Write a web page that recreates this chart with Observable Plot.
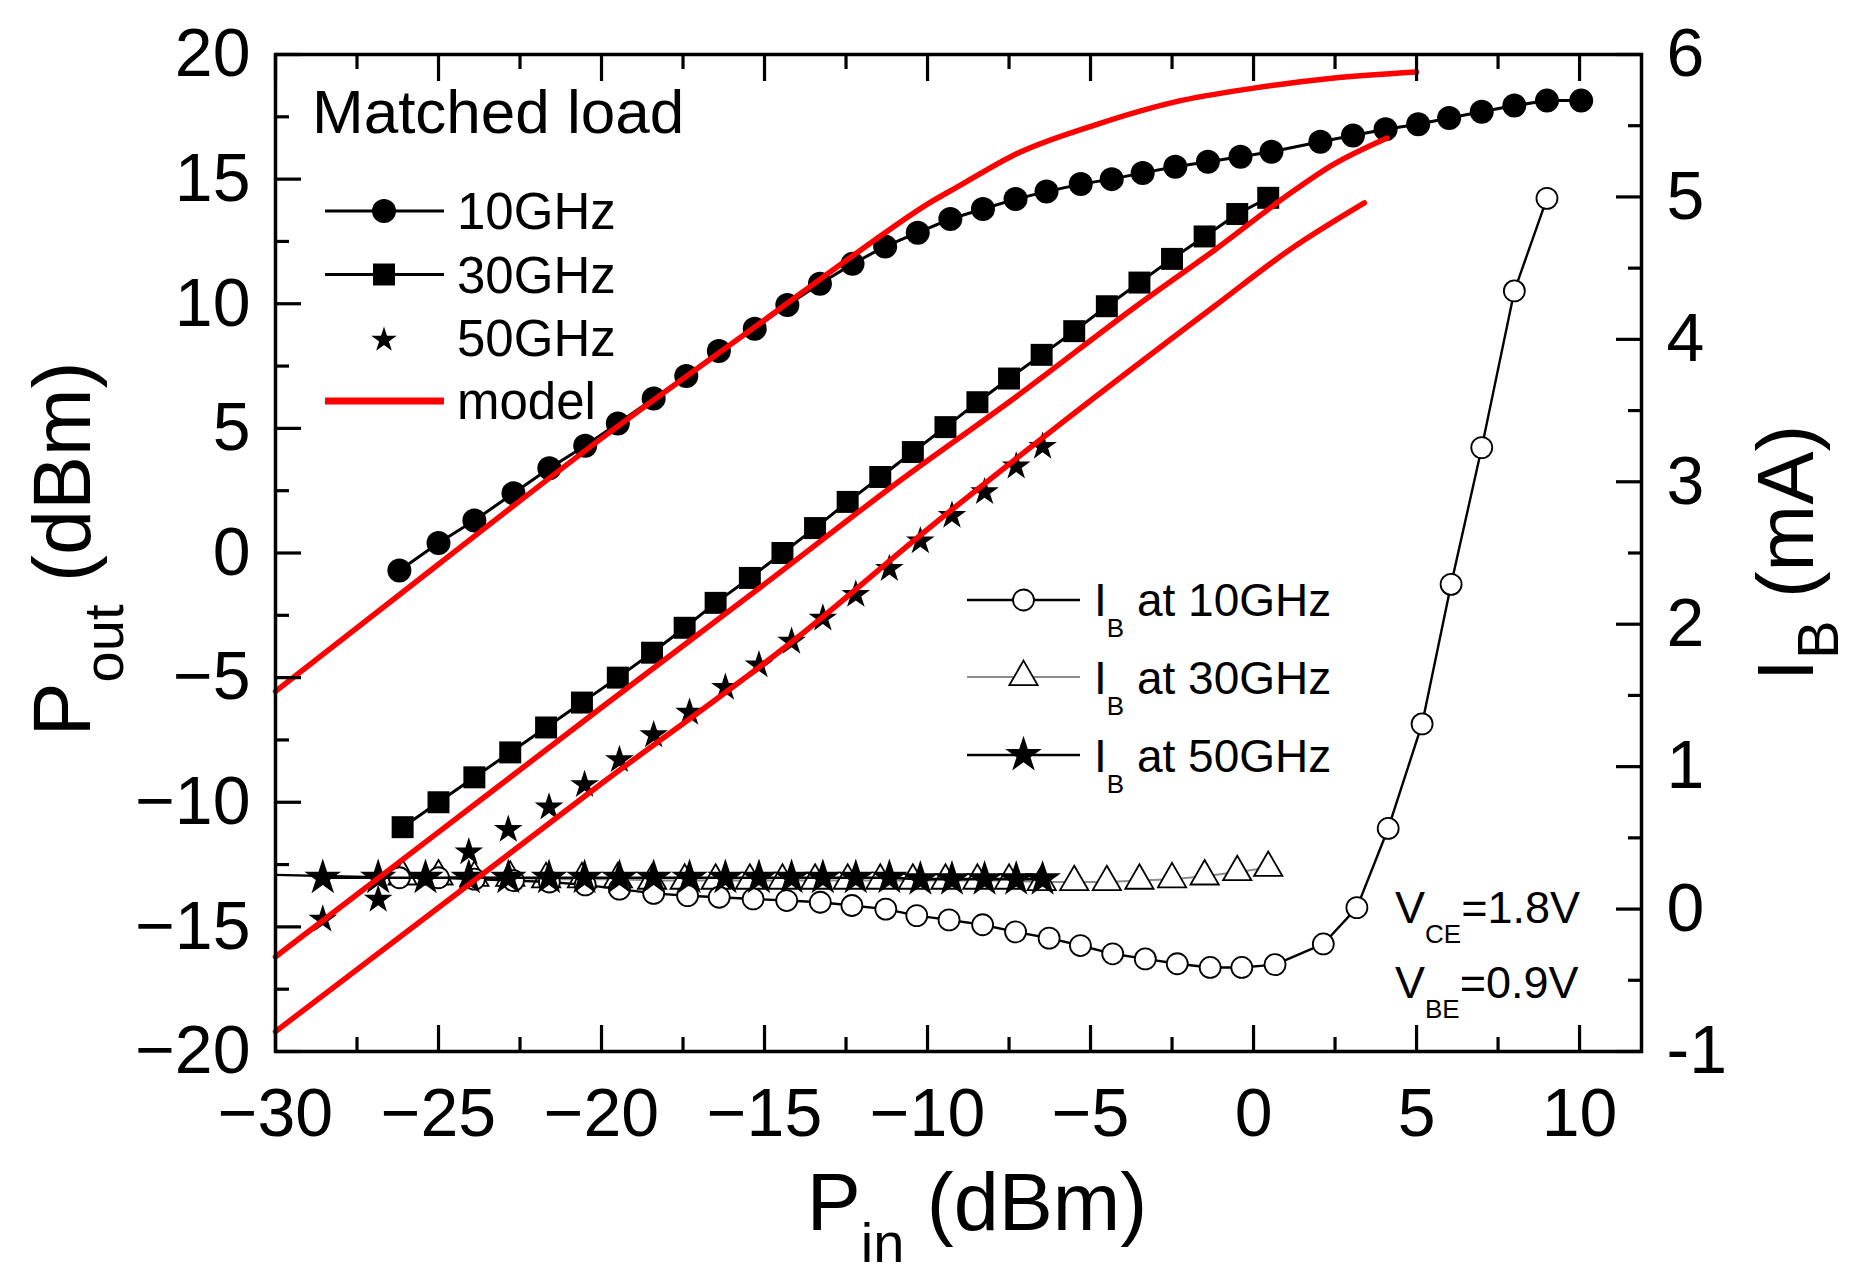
<!DOCTYPE html>
<html>
<head>
<meta charset="utf-8">
<script src="https://cdn.jsdelivr.net/npm/d3@7"></script>
<script src="https://cdn.jsdelivr.net/npm/@observablehq/plot@0.6"></script>
<style>
  html, body { margin: 0; padding: 0; background: #fff; }
  #chart { width: 1855px; height: 1288px; }
</style>
</head>
<body>
<div id="chart"></div>
<script>
const FONT = "'Liberation Sans', Arial, Helvetica, sans-serif";

// ---------- data ----------
// Pout (dBm) vs Pin (dBm), 10 GHz
const pin10  = [-26.2,-25.0,-23.9,-22.7,-21.6,-20.5,-19.5,-18.4,-17.4,-16.4,-15.3,-14.3,-13.3,-12.3,-11.3,-10.3,-9.3,-8.3,-7.3,-6.35,-5.3,-4.35,-3.4,-2.4,-1.4,-0.4,0.55,2.05,3.05,4.05,5.05,6.0,7.0,8.0,9.0,10.05];
const pout10 = [-0.7,0.4,1.3,2.4,3.4,4.3,5.2,6.2,7.1,8.1,9.0,9.95,10.8,11.6,12.3,12.85,13.4,13.8,14.2,14.5,14.8,15.0,15.25,15.5,15.7,15.9,16.1,16.5,16.75,17.0,17.2,17.45,17.7,17.95,18.15,18.15];
// 30 GHz
const pin30  = [-26.1,-25.0,-23.9,-22.8,-21.7,-20.6,-19.5,-18.45,-17.45,-16.5,-15.45,-14.45,-13.45,-12.45,-11.45,-10.45,-9.45,-8.47,-7.5,-6.5,-5.5,-4.5,-3.5,-2.5,-1.5,-0.5,0.45];
const pout30 = [-11.0,-10.0,-9.0,-8.0,-7.0,-6.0,-5.0,-4.0,-3.0,-2.0,-1.0,0.0,1.0,2.05,3.05,4.05,5.05,6.05,7.0,7.95,8.9,9.9,10.85,11.8,12.7,13.6,14.25];
// 50 GHz
const pin50  = [-28.55,-26.85,-25.4,-24.07,-22.86,-21.61,-20.52,-19.45,-18.4,-17.3,-16.2,-15.17,-14.17,-13.21,-12.2,-11.17,-10.22,-9.25,-8.25,-7.28,-6.47];
const pout50 = [-14.7,-13.9,-13.0,-12.0,-11.1,-10.2,-9.3,-8.3,-7.3,-6.4,-5.4,-4.5,-3.55,-2.62,-1.67,-0.63,0.48,1.5,2.45,3.48,4.27];

// model curves
const modelPin10  = [-30,-25,-20,-15,-12,-10,-9,-7.3,-4.8,-2.4,0,2.4,5.0];
const modelPout10 = [-5.55,-0.45,4.6,9.35,12.2,14.0,14.75,16.0,17.2,18.1,18.65,19.05,19.3];
const modelPin30  = [-30,-25,-20,-15,-10.9,-7.3,-3.6,-1.2,1.2,2.4,4.1];
const modelPout30 = [-16.2,-11.2,-6.2,-1.25,2.85,6.25,9.9,12.15,14.5,15.55,16.65];
const modelPin50  = [-30,-20,-14,-10,-6,-1.2,1.2,3.4];
const modelPout50 = [-19.2,-9.25,-3.4,0.95,5.1,9.9,12.25,14.05];

// base current IB (mA), right axis
const ibPin10 = [-30,-26.2,-25.0,-23.9,-22.7,-21.6,-20.5,-19.45,-18.4,-17.36,-16.39,-15.35,-14.32,-13.29,-12.32,-11.28,-10.33,-9.34,-8.31,-7.3,-6.27,-5.31,-4.32,-3.32,-2.34,-1.33,-0.36,0.66,2.14,3.17,4.13,5.17,6.06,7.0,8.0,9.0];
const ib10    = [0.24,0.22,0.22,0.21,0.2,0.19,0.17,0.14,0.11,0.094,0.083,0.071,0.06,0.048,0.025,0.0,-0.046,-0.076,-0.11,-0.16,-0.204,-0.256,-0.314,-0.35,-0.384,-0.41,-0.41,-0.39,-0.245,0.01,0.566,1.30,2.28,3.24,4.34,4.99];
const ibPin30 = [-26.1,-25.0,-23.9,-22.8,-21.7,-20.6,-19.5,-18.45,-17.45,-16.5,-15.45,-14.45,-13.45,-12.45,-11.45,-10.45,-9.45,-8.47,-7.5,-6.5,-5.5,-4.5,-3.5,-2.5,-1.5,-0.5,0.45];
const ib30    = [0.23,0.23,0.22,0.22,0.21,0.21,0.21,0.2,0.2,0.2,0.2,0.2,0.2,0.2,0.2,0.2,0.2,0.2,0.2,0.19,0.19,0.19,0.2,0.21,0.23,0.26,0.29];
const ibPin50 = [-28.55,-26.85,-25.4,-24.07,-22.86,-21.61,-20.52,-19.45,-18.4,-17.3,-16.2,-15.17,-14.17,-13.21,-12.2,-11.17,-10.22,-9.25,-8.25,-7.28,-6.47];
const ib50    = [0.22,0.22,0.22,0.22,0.22,0.22,0.22,0.22,0.22,0.22,0.22,0.22,0.22,0.22,0.22,0.22,0.21,0.21,0.21,0.21,0.21];

// ticks
const xMajor = [-30,-25,-20,-15,-10,-5,0,5,10];
const xMinor = [-27.5,-22.5,-17.5,-12.5,-7.5,-2.5,2.5,7.5];
const yMajor = [-20,-15,-10,-5,0,5,10,15,20];
const yMinor = [-17.5,-12.5,-7.5,-2.5,2.5,7.5,12.5,17.5];
const ibMajor = [-1,0,1,2,3,4,5,6];
const ibMinor = [-0.5,0.5,1.5,2.5,3.5,4.5,5.5];

// ---------- build tables ----------
const zip = (xs, ys) => xs.map((p, i) => ({p, v: ys[i]}));
const d10 = zip(pin10, pout10), d30 = zip(pin30, pout30), d50 = zip(pin50, pout50);
const m10 = zip(modelPin10, modelPout10), m30 = zip(modelPin30, modelPout30), m50 = zip(modelPin50, modelPout50);
const i10 = zip(ibPin10, ib10), i30 = zip(ibPin30, ib30), i50 = zip(ibPin50, ib50);

// right axis (-1..6 mA) shares the vertical range of the left axis (-20..20 dBm)
const ibY = v => -20 + (v + 1) * 40 / 7;
const yIb = y => Math.round(((y + 20) * 7 / 40 - 1) * 1000) / 1000;
const ibYv = d => ibY(d.v);

const TS = 3.2;      // tick stroke
const MAJ = -26, MIN = -14; // inward ticks
const blank = () => "";

const plot = Plot.plot({
  width: 1855,
  height: 1288,
  marginLeft: 275,
  marginRight: 214,
  marginTop: 54,
  marginBottom: 237,
  x: {domain: [-30, 11.9]},
  y: {domain: [-20, 20]},
  style: {fontFamily: FONT, fontSize: "68px", color: "black", background: "white", overflow: "visible"},
  marks: [
    // IB curves
    Plot.line(i30, {x: "p", y: ibYv, stroke: "#8c8c8c", strokeWidth: 2}),
    Plot.dot(i30, {x: "p", y: ibYv, symbol: "triangle", r: 10.5, fill: "white", stroke: "black", strokeWidth: 1.8}),
    Plot.line(i10, {x: "p", y: ibYv, stroke: "black", strokeWidth: 2.4}),
    Plot.dot(i10, {x: "p", y: ibYv, filter: d => d.p > -29.9, symbol: "circle", r: 10.5, fill: "white", stroke: "black", strokeWidth: 1.8}),
    Plot.line(i50, {x: "p", y: ibYv, stroke: "black", strokeWidth: 2.6}),
    Plot.dot(i50, {x: "p", y: ibYv, symbol: "star", r: 11.5, fill: "black"}),
    // Pout measurements
    Plot.line(d10, {x: "p", y: "v", stroke: "black", strokeWidth: 3}),
    Plot.dot(d10, {x: "p", y: "v", symbol: "circle", r: 12, fill: "black"}),
    Plot.line(d30, {x: "p", y: "v", stroke: "black", strokeWidth: 3}),
    Plot.dot(d30, {x: "p", y: "v", symbol: "square", r: 12.4, fill: "black"}),
    Plot.dot(d50, {x: "p", y: "v", symbol: "star", r: 9, fill: "black"}),
    // model
    Plot.line(m10, {x: "p", y: "v", stroke: "#ff0000", strokeWidth: 5.5, curve: "monotone-x"}),
    Plot.line(m30, {x: "p", y: "v", stroke: "#ff0000", strokeWidth: 5.5, curve: "monotone-x"}),
    Plot.line(m50, {x: "p", y: "v", stroke: "#ff0000", strokeWidth: 5.5, curve: "monotone-x"}),
    // frame and axes
    Plot.frame({stroke: "black", strokeWidth: 3.5}),
    Plot.axisX(xMajor, {anchor: "bottom", tickSize: MAJ, strokeWidth: TS, tickFormat: blank, label: null}),
    Plot.axisX(xMinor, {anchor: "bottom", tickSize: MIN, strokeWidth: TS, tickFormat: blank, label: null}),
    Plot.axisX(xMajor, {anchor: "top", tickSize: MAJ, strokeWidth: TS, tickFormat: blank, label: null}),
    Plot.axisX(xMinor, {anchor: "top", tickSize: MIN, strokeWidth: TS, tickFormat: blank, label: null}),
    Plot.axisX(xMajor, {anchor: "bottom", tickSize: 0, tickPadding: 36, fontSize: 68, label: null}),
    Plot.axisY(yMajor, {anchor: "left", tickSize: MAJ, strokeWidth: TS, tickFormat: blank, label: null}),
    Plot.axisY(yMinor, {anchor: "left", tickSize: MIN, strokeWidth: TS, tickFormat: blank, label: null}),
    Plot.axisY(yMajor, {anchor: "left", tickSize: 0, tickPadding: 25, fontSize: 68, label: null}),
    Plot.axisY(ibMajor.map(ibY), {anchor: "right", tickSize: MAJ, strokeWidth: TS, tickFormat: blank, label: null}),
    Plot.axisY(ibMinor.map(ibY), {anchor: "right", tickSize: MIN, strokeWidth: TS, tickFormat: blank, label: null}),
    Plot.axisY(ibMajor.map(ibY), {anchor: "right", tickSize: 0, tickPadding: 25, fontSize: 68, tickFormat: d => String(yIb(d)), label: null})
  ]
});
document.getElementById("chart").appendChild(plot);

// ---------- titles, legends, annotations ----------
const svg = d3.select(plot);
const g = svg.append("g").attr("font-family", FONT).attr("fill", "black");

function addText(parts, x, y, {anchor = "start", rotate = 0} = {}) {
  const t = g.append("text").attr("text-anchor", anchor).style("white-space", "pre");
  if (rotate) t.attr("transform", `translate(${x},${y}) rotate(${rotate})`);
  else t.attr("x", x).attr("y", y);
  let cur = 0;
  for (const [str, size, shift = 0] of parts) {
    t.append("tspan").attr("font-size", size).attr("dy", shift - cur).text(str);
    cur = shift;
  }
}
function sym(type, r, x, y, fill, stroke, sw) {
  g.append("path")
    .attr("d", d3.symbol(type, Math.PI * r * r)())
    .attr("transform", `translate(${x},${y})`)
    .attr("fill", fill).attr("stroke", stroke || "none").attr("stroke-width", sw || 0);
}
function seg(x1, x2, y, color, w) {
  g.append("line").attr("x1", x1).attr("x2", x2).attr("y1", y).attr("y2", y)
    .attr("stroke", color).attr("stroke-width", w);
}

// axis titles
addText([["P", 81], ["in", 56, 32], [" (dBm)", 81, 0]], 977, 1230, {anchor: "middle"});
addText([["P", 81], ["out", 56, 33], [" (dBm)", 81, 0]], 90, 549, {anchor: "middle", rotate: -90});
addText([["I", 80], ["B", 58, 25], [" (mA)", 80, 0]], 1813, 553, {anchor: "middle", rotate: -90});

// legend 1
addText([["Matched load", 62]], 312, 133);
seg(325, 444, 211, "black", 3); sym(d3.symbolCircle, 12, 384, 211, "black");
addText([["10GHz", 51]], 457, 229);
seg(325, 444, 274.5, "black", 3); sym(d3.symbolSquare, 12.4, 384, 274.5, "black");
addText([["30GHz", 51]], 457, 292.5);
sym(d3.symbolStar, 8, 384, 340, "black");
addText([["50GHz", 51]], 457, 356);
seg(325, 444, 401, "#ff0000", 7);
addText([["model", 51]], 457, 419);

// legend 2
seg(967, 1080, 600, "black", 2.4); sym(d3.symbolCircle, 10.5, 1023.5, 600, "white", "black", 1.8);
addText([["I", 46], ["B", 26, 21], [" at 10GHz", 46, 0]], 1094, 616);
seg(967, 1080, 677, "#8c8c8c", 2); sym(d3.symbolTriangle, 10.5, 1023.5, 677, "white", "black", 1.8);
addText([["I", 46], ["B", 26, 21], [" at 30GHz", 46, 0]], 1094, 694);
seg(967, 1080, 755, "black", 2.6); sym(d3.symbolStar, 11.5, 1023.5, 755, "black");
addText([["I", 46], ["B", 26, 21], [" at 50GHz", 46, 0]], 1094, 772);

// bias annotation
addText([["V", 45], ["CE", 26, 20], ["=1.8V", 45, 0]], 1395, 923);
addText([["V", 45], ["BE", 26, 20], ["=0.9V", 45, 0]], 1395, 998);
</script>
</body>
</html>
